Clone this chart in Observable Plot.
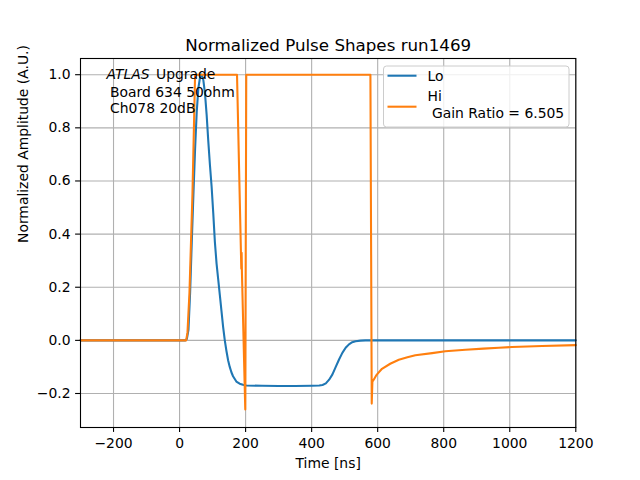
<!DOCTYPE html>
<html>
<head>
<meta charset="utf-8">
<script src="https://cdn.jsdelivr.net/npm/d3@7"></script>
<script src="https://cdn.jsdelivr.net/npm/@observablehq/plot@0.6"></script>
<style>
  html, body { margin: 0; padding: 0; background: #fff; }
  svg { font-family: "DejaVu Sans", sans-serif; }
</style>
</head>
<body>
<div id="chart"></div>
<script>
const title = "Normalized Pulse Shapes run1469";
const xLabel = "Time [ns]";
const yLabel = "Normalized Amplitude (A.U.)";
const seriesNames = ["Lo", "Hi"];
const gainLabel = " Gain Ratio = 6.505";
const xTicks = [-200, 0, 200, 400, 600, 800, 1000, 1200];
const yTicks = [-0.2, 0.0, 0.2, 0.4, 0.6, 0.8, 1.0];

// Lo gain pulse
const tLo = [-300, 0, 17, 22, 27, 32, 37, 42, 47, 52, 57, 62, 67, 72, 77, 82, 87, 92, 97, 102,
  107, 112, 117, 122, 127, 132, 137, 142, 147, 152, 157, 162, 172, 182, 192, 202, 250, 300, 350, 400,
  423, 433, 443, 453, 463, 473, 483, 493, 503, 513, 523, 533, 548, 563, 600, 800, 1000, 1200];
const lo = [0, 0, 0, 0.005, 0.04, 0.18, 0.37, 0.55, 0.72, 0.86, 0.95, 0.99, 1.0, 0.98, 0.93, 0.85, 0.75, 0.66, 0.58, 0.48,
  0.37, 0.29, 0.23, 0.17, 0.11, 0.05, 0.0, -0.04, -0.075, -0.1, -0.12, -0.135, -0.155, -0.163, -0.167, -0.17, -0.171, -0.172, -0.172, -0.171,
  -0.17, -0.168, -0.162, -0.148, -0.128, -0.1, -0.072, -0.047, -0.028, -0.015, -0.007, -0.003, -0.001, 0, 0, 0, 0, 0];

// Hi gain pulse (saturated)
const tHi = [-300, 0, 20, 24, 30, 39, 47, 174, 187, 188, 189, 199, 202, 578, 582, 584, 588, 595, 600, 613,
  638, 664, 690, 714, 765, 805, 866, 920, 967, 1007, 1098, 1200];
const hi = [0, 0, 0, 0.03, 0.18, 0.55, 1.0, 1.0, 0.27, 0.33, 0.25, -0.26, 1.0, 1.0, -0.238, -0.155, -0.148, -0.133, -0.125, -0.107,
  -0.088, -0.073, -0.064, -0.056, -0.048, -0.041, -0.035, -0.031, -0.028, -0.025, -0.021, -0.018];

const colors = ["#1f77b4", "#ff7f0e"];
const loData = tLo.map((t, i) => ({t, v: lo[i]}));
const hiData = tHi.map((t, i) => ({t, v: hi[i]}));

const fs = 13.9;
const plot = Plot.plot({
  width: 640,
  height: 480,
  marginLeft: 80,
  marginRight: 64.7,
  marginTop: 58,
  marginBottom: 53,
  style: {fontFamily: "DejaVu Sans, sans-serif", background: "#fff", overflow: "visible"},
  x: {domain: [-300, 1200]},
  y: {domain: [-0.328, 1.061]},
  marks: [
    Plot.gridX(xTicks, {stroke: "#b0b0b0", strokeOpacity: 1, strokeWidth: 1.1}),
    Plot.gridY(yTicks, {stroke: "#b0b0b0", strokeOpacity: 1, strokeWidth: 1.1}),
    Plot.line(loData, {x: "t", y: "v", stroke: colors[0], strokeWidth: 2.08, strokeLinejoin: "round"}),
    Plot.line(hiData, {x: "t", y: "v", stroke: colors[1], strokeWidth: 2.08, strokeLinejoin: "round"}),
    Plot.frame({stroke: "black", strokeWidth: 1.1}),
    Plot.axisX(xTicks, {tickSize: 4.9, tickPadding: 5.5, fontSize: fs, label: null, tickFormat: d3.format("d"), stroke: "black", strokeWidth: 1.1}),
    Plot.axisY(yTicks, {tickSize: 4.9, tickPadding: 5, fontSize: fs, label: null, tickFormat: d3.format(".1f"), stroke: "black", strokeWidth: 1.1}),
    Plot.text([xLabel], {frameAnchor: "bottom", lineAnchor: "middle", dy: 36.5, fontSize: fs, fill: "black"}),
    Plot.text([yLabel], {frameAnchor: "left", lineAnchor: "middle", dx: -57, rotate: -90, fontSize: fs, fill: "black"}),
    Plot.text([title], {frameAnchor: "top", lineAnchor: "middle", dy: -12.5, fontSize: 16.7, fill: "black"}),
    Plot.text(["ATLAS"], {frameAnchor: "top-left", lineAnchor: "middle", dx: 26, dy: 16.5, textAnchor: "start", fontSize: fs, fontStyle: "italic", fill: "black"}),
    Plot.text(["Upgrade"], {frameAnchor: "top-left", lineAnchor: "middle", dx: 75.5, dy: 16.5, textAnchor: "start", fontSize: fs, fill: "black"}),
    Plot.text(["Board 634 50ohm"], {frameAnchor: "top-left", lineAnchor: "middle", dx: 29.5, dy: 34.2, textAnchor: "start", fontSize: fs, fill: "black"}),
    Plot.text(["Ch078 20dB"], {frameAnchor: "top-left", lineAnchor: "middle", dx: 29.5, dy: 49.8, textAnchor: "start", fontSize: fs, fill: "black"})
  ]
});

// Legend (upper right, matplotlib style)
const svg = d3.select(plot);
const lg = svg.append("g").attr("font-family", "DejaVu Sans, sans-serif").attr("font-size", fs)
  .attr("text-anchor", "start").attr("fill", "black");
lg.append("rect").attr("x", 383.5).attr("y", 66).attr("width", 185.5).attr("height", 61)
  .attr("rx", 3).attr("fill", "white").attr("fill-opacity", 0.8).attr("stroke", "#cccccc").attr("stroke-width", 1);
lg.append("line").attr("x1", 387.5).attr("x2", 416.5).attr("y1", 75.7).attr("y2", 75.7)
  .attr("stroke", colors[0]).attr("stroke-width", 2.08);
lg.append("text").attr("x", 427.5).attr("y", 76).attr("dy", "0.35em").attr("text-anchor", "start").text(seriesNames[0]);
lg.append("line").attr("x1", 387.5).attr("x2", 416.5).attr("y1", 106.7).attr("y2", 106.7)
  .attr("stroke", colors[1]).attr("stroke-width", 2.08);
lg.append("text").attr("x", 427.5).attr("y", 96.5).attr("dy", "0.35em").attr("text-anchor", "start").text(seriesNames[1]);
lg.append("text").attr("x", 427.5).attr("y", 113).attr("dy", "0.35em").attr("text-anchor", "start")
  .attr("xml:space", "preserve").style("white-space", "pre").text(gainLabel);

document.getElementById("chart").appendChild(plot);
</script>
</body>
</html>
